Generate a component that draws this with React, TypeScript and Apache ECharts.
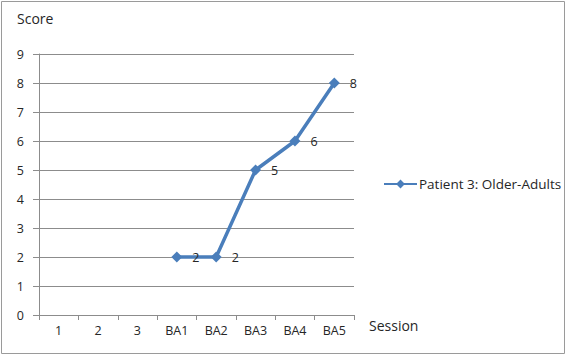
import React, { useEffect, useRef } from "react";
import * as echarts from "echarts";

const sessions = ["1", "2", "3", "BA1", "BA2", "BA3", "BA4", "BA5"];
const scores: (number | null)[] = [null, null, null, 2, 2, 5, 6, 8];
const seriesName = "Patient 3: Older-Adults";

const FONT = "'Open Sans', 'Noto Sans', sans-serif";
const GRID_GRAY = "#8c8c8c";
const TEXT = "#262626";
const BLUE = "#4a7ebb";

export default function App() {
  const ref = useRef<HTMLDivElement>(null);

  useEffect(() => {
    if (!ref.current) return;
    const chart = echarts.init(ref.current, undefined, { renderer: "svg" });
    chart.setOption({
      animation: false,
      backgroundColor: "#ffffff",
      textStyle: { fontFamily: FONT },
      grid: { left: 39, right: 213, top: 54, bottom: 41, containLabel: false },
      legend: {
        data: [seriesName],
        left: 378,
        top: 172,
        itemWidth: 33,
        itemHeight: 11,
        textStyle: { fontFamily: FONT, fontSize: 13.5, color: TEXT, padding: [0, 0, 0, -3] },
      },
      xAxis: {
        type: "category",
        data: sessions,
        boundaryGap: true,
        axisLine: { lineStyle: { color: GRID_GRAY, width: 1 } },
        axisTick: { show: true, length: 5, inside: false, lineStyle: { color: GRID_GRAY } },
        axisLabel: { color: TEXT, fontSize: 12.5, fontFamily: FONT, margin: 9 },
        splitLine: { show: false },
      },
      yAxis: {
        type: "value",
        min: 0,
        max: 9,
        interval: 1,
        axisLine: { show: true, lineStyle: { color: GRID_GRAY, width: 1 } },
        axisTick: { show: true, length: 6, lineStyle: { color: GRID_GRAY } },
        axisLabel: { color: TEXT, fontSize: 12.5, fontFamily: FONT, margin: 15 },
        splitLine: { show: true, lineStyle: { color: GRID_GRAY, width: 1 } },
      },
      series: [
        {
          name: seriesName,
          type: "line",
          data: scores,
          connectNulls: false,
          symbol: "diamond",
          symbolSize: 11,
          lineStyle: { color: BLUE, width: 3.5 },
          itemStyle: { color: BLUE },
          label: {
            show: true,
            position: "right",
            distance: 10,
            color: TEXT,
            fontSize: 12.5,
            fontFamily: FONT,
          },
        },
      ],
      graphic: [
        {
          type: "rect",
          shape: { x: 1.5, y: 1.5, width: 563, height: 352 },
          style: { fill: "none", stroke: "#9a9a9a", lineWidth: 1 },
          silent: true,
        },
        {
          type: "text",
          left: 17,
          top: 11,
          style: { text: "Score", fontSize: 14, fontFamily: FONT, fill: TEXT },
        },
        {
          type: "text",
          left: 369,
          top: 318,
          style: { text: "Session", fontSize: 14, fontFamily: FONT, fill: TEXT },
        },
      ],
    });
    return () => chart.dispose();
  }, []);

  return (
    <div
      ref={ref}
      style={{ position: "fixed", left: 0, top: 0, width: 567, height: 356 }}
    />
  );
}
